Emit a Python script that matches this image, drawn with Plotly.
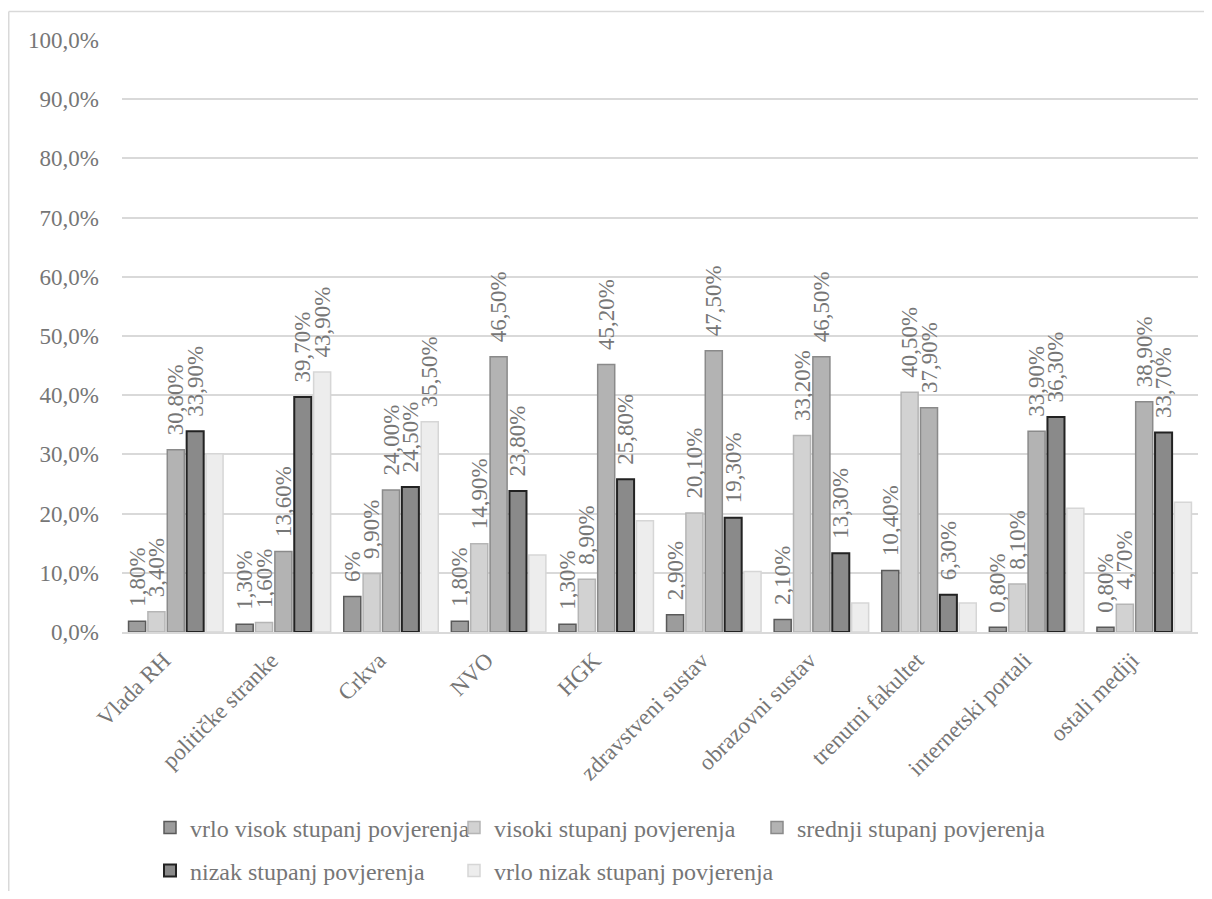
import plotly.graph_objects as go

categories = ["Vlada RH", "političke stranke", "Crkva", "NVO", "HGK",
              "zdravstveni sustav", "obrazovni sustav", "trenutni fakultet",
              "internetski portali", "ostali mediji"]

series_names = ["vrlo visok stupanj povjerenja", "visoki stupanj povjerenja",
                "srednji stupanj povjerenja", "nizak stupanj povjerenja",
                "vrlo nizak stupanj povjerenja"]

vrlo_visok = [1.8, 1.3, 6.0, 1.8, 1.3, 2.9, 2.1, 10.4, 0.8, 0.8]
visoki = [3.4, 1.6, 9.9, 14.9, 8.9, 20.1, 33.2, 40.5, 8.1, 4.7]
srednji = [30.8, 13.6, 24.0, 46.5, 45.2, 47.5, 46.5, 37.9, 33.9, 38.9]
nizak = [33.9, 39.7, 24.5, 23.8, 25.8, 19.3, 13.3, 6.3, 36.3, 33.7]
vrlo_nizak = [30.1, 43.9, 35.5, 13.0, 18.8, 10.2, 4.9, 4.9, 20.9, 21.9]

# which labels are shown for the last series (only two in the original)
vrlo_nizak_labelled = ["političke stranke", "Crkva"]
# label written without decimals in the original
short_labels = {("vrlo visok stupanj povjerenja", "Crkva")}

y_ticks = [0, 10, 20, 30, 40, 50, 60, 70, 80, 90, 100]
y_tick_labels = ["0,0%", "10,0%", "20,0%", "30,0%", "40,0%", "50,0%",
                 "60,0%", "70,0%", "80,0%", "90,0%", "100,0%"]

fills = ["#9c9c9c", "#d2d2d2", "#b3b3b3", "#8a8a8a", "#ededed"]
lines = ["#5a5a5a", "#b5b5b5", "#8a8a8a", "#222222", "#d6d6d6"]
line_w = [1.5, 1.5, 1.5, 2.0, 1.5]

FONT = "Liberation Serif"
TXT = "#767676"
FS = 23
LFS = 24

# figure geometry (pixels)
W, H = 1196, 883
L, R, T, B = 114, 6, 32, 259
PW, PH = W - L - R, H - T - B


def px_x(x):
    return (x - L) / PW


def px_y(y):
    return (H - B - y) / PH


def fmt(v, name, cat):
    if (name, cat) in short_labels:
        return f"{v:.0f}%"
    return f"{v:.2f}".replace(".", ",") + "%"


all_vals = [vrlo_visok, visoki, srednji, nizak, vrlo_nizak]
PAD = "\u00a0\u00a0"

fig = go.Figure()
legend_ids = ["legend", "legend2", "legend3", "legend4", "legend5"]
for i, (name, vals) in enumerate(zip(series_names, all_vals)):
    texts = []
    for c, v in zip(categories, vals):
        if i == 4 and c not in vrlo_nizak_labelled:
            texts.append("")
        else:
            texts.append(PAD + fmt(v, name, c))
    fig.add_trace(go.Bar(
        x=categories, y=vals, name=name,
        marker=dict(color=fills[i], line=dict(color=lines[i], width=line_w[i])),
        text=texts, textposition="outside", textangle=-90,
        textfont=dict(family=FONT, size=FS, color=TXT),
        constraintext="none", cliponaxis=False,
        legend=legend_ids[i],
    ))

# legend placement: columns and rows (pixel centres of the legend symbols)
leg_cols = [162, 466, 769]
leg_rows = [820, 863]
leg_pos = [(0, 0), (1, 0), (2, 0), (0, 1), (1, 1)]
legend_layout = {}
for i, lid in enumerate(legend_ids):
    c, r = leg_pos[i]
    legend_layout[lid] = dict(
        x=px_x(leg_cols[c] - 20), y=px_y(leg_rows[r]),
        xanchor="left", yanchor="middle", orientation="h",
        font=dict(family=FONT, size=LFS, color=TXT),
        bgcolor="rgba(0,0,0,0)",
    )

fig.update_layout(
    width=W, height=H,
    margin=dict(l=L, r=R, t=T, b=B, autoexpand=False),
    paper_bgcolor="white", plot_bgcolor="white",
    barmode="group", bargap=0.10, bargroupgap=0.12,
    font=dict(family=FONT, size=FS, color=TXT),
    showlegend=True,
    **legend_layout,
    xaxis=dict(
        type="category", tickangle=-45, showline=True, linecolor="#d9d9d9",
        linewidth=1.5, showgrid=False, ticks="", automargin=False,
        ticklabelstandoff=4, ticklabelshift=-12,
        tickfont=dict(family=FONT, size=FS, color=TXT),
    ),
    yaxis=dict(
        range=[0, 100], tickvals=y_ticks, ticktext=y_tick_labels,
        showgrid=True, gridcolor="#d9d9d9", gridwidth=1.5, zeroline=False,
        showline=False, ticks="", ticklabelstandoff=22, automargin=False,
        tickfont=dict(family=FONT, size=FS, color=TXT),
    ),
    shapes=[
        dict(type="line", xref="paper", yref="paper",
             x0=px_x(0.75), x1=px_x(W + 10), y0=px_y(3.5), y1=px_y(3.5),
             line=dict(color="#d9d9d9", width=1.5), layer="below"),
        dict(type="line", xref="paper", yref="paper",
             x0=px_x(0.75), x1=px_x(0.75), y0=px_y(3.5), y1=px_y(H + 10),
             line=dict(color="#d9d9d9", width=1.5), layer="below"),
    ],
)

fig.write_html("out.html")
